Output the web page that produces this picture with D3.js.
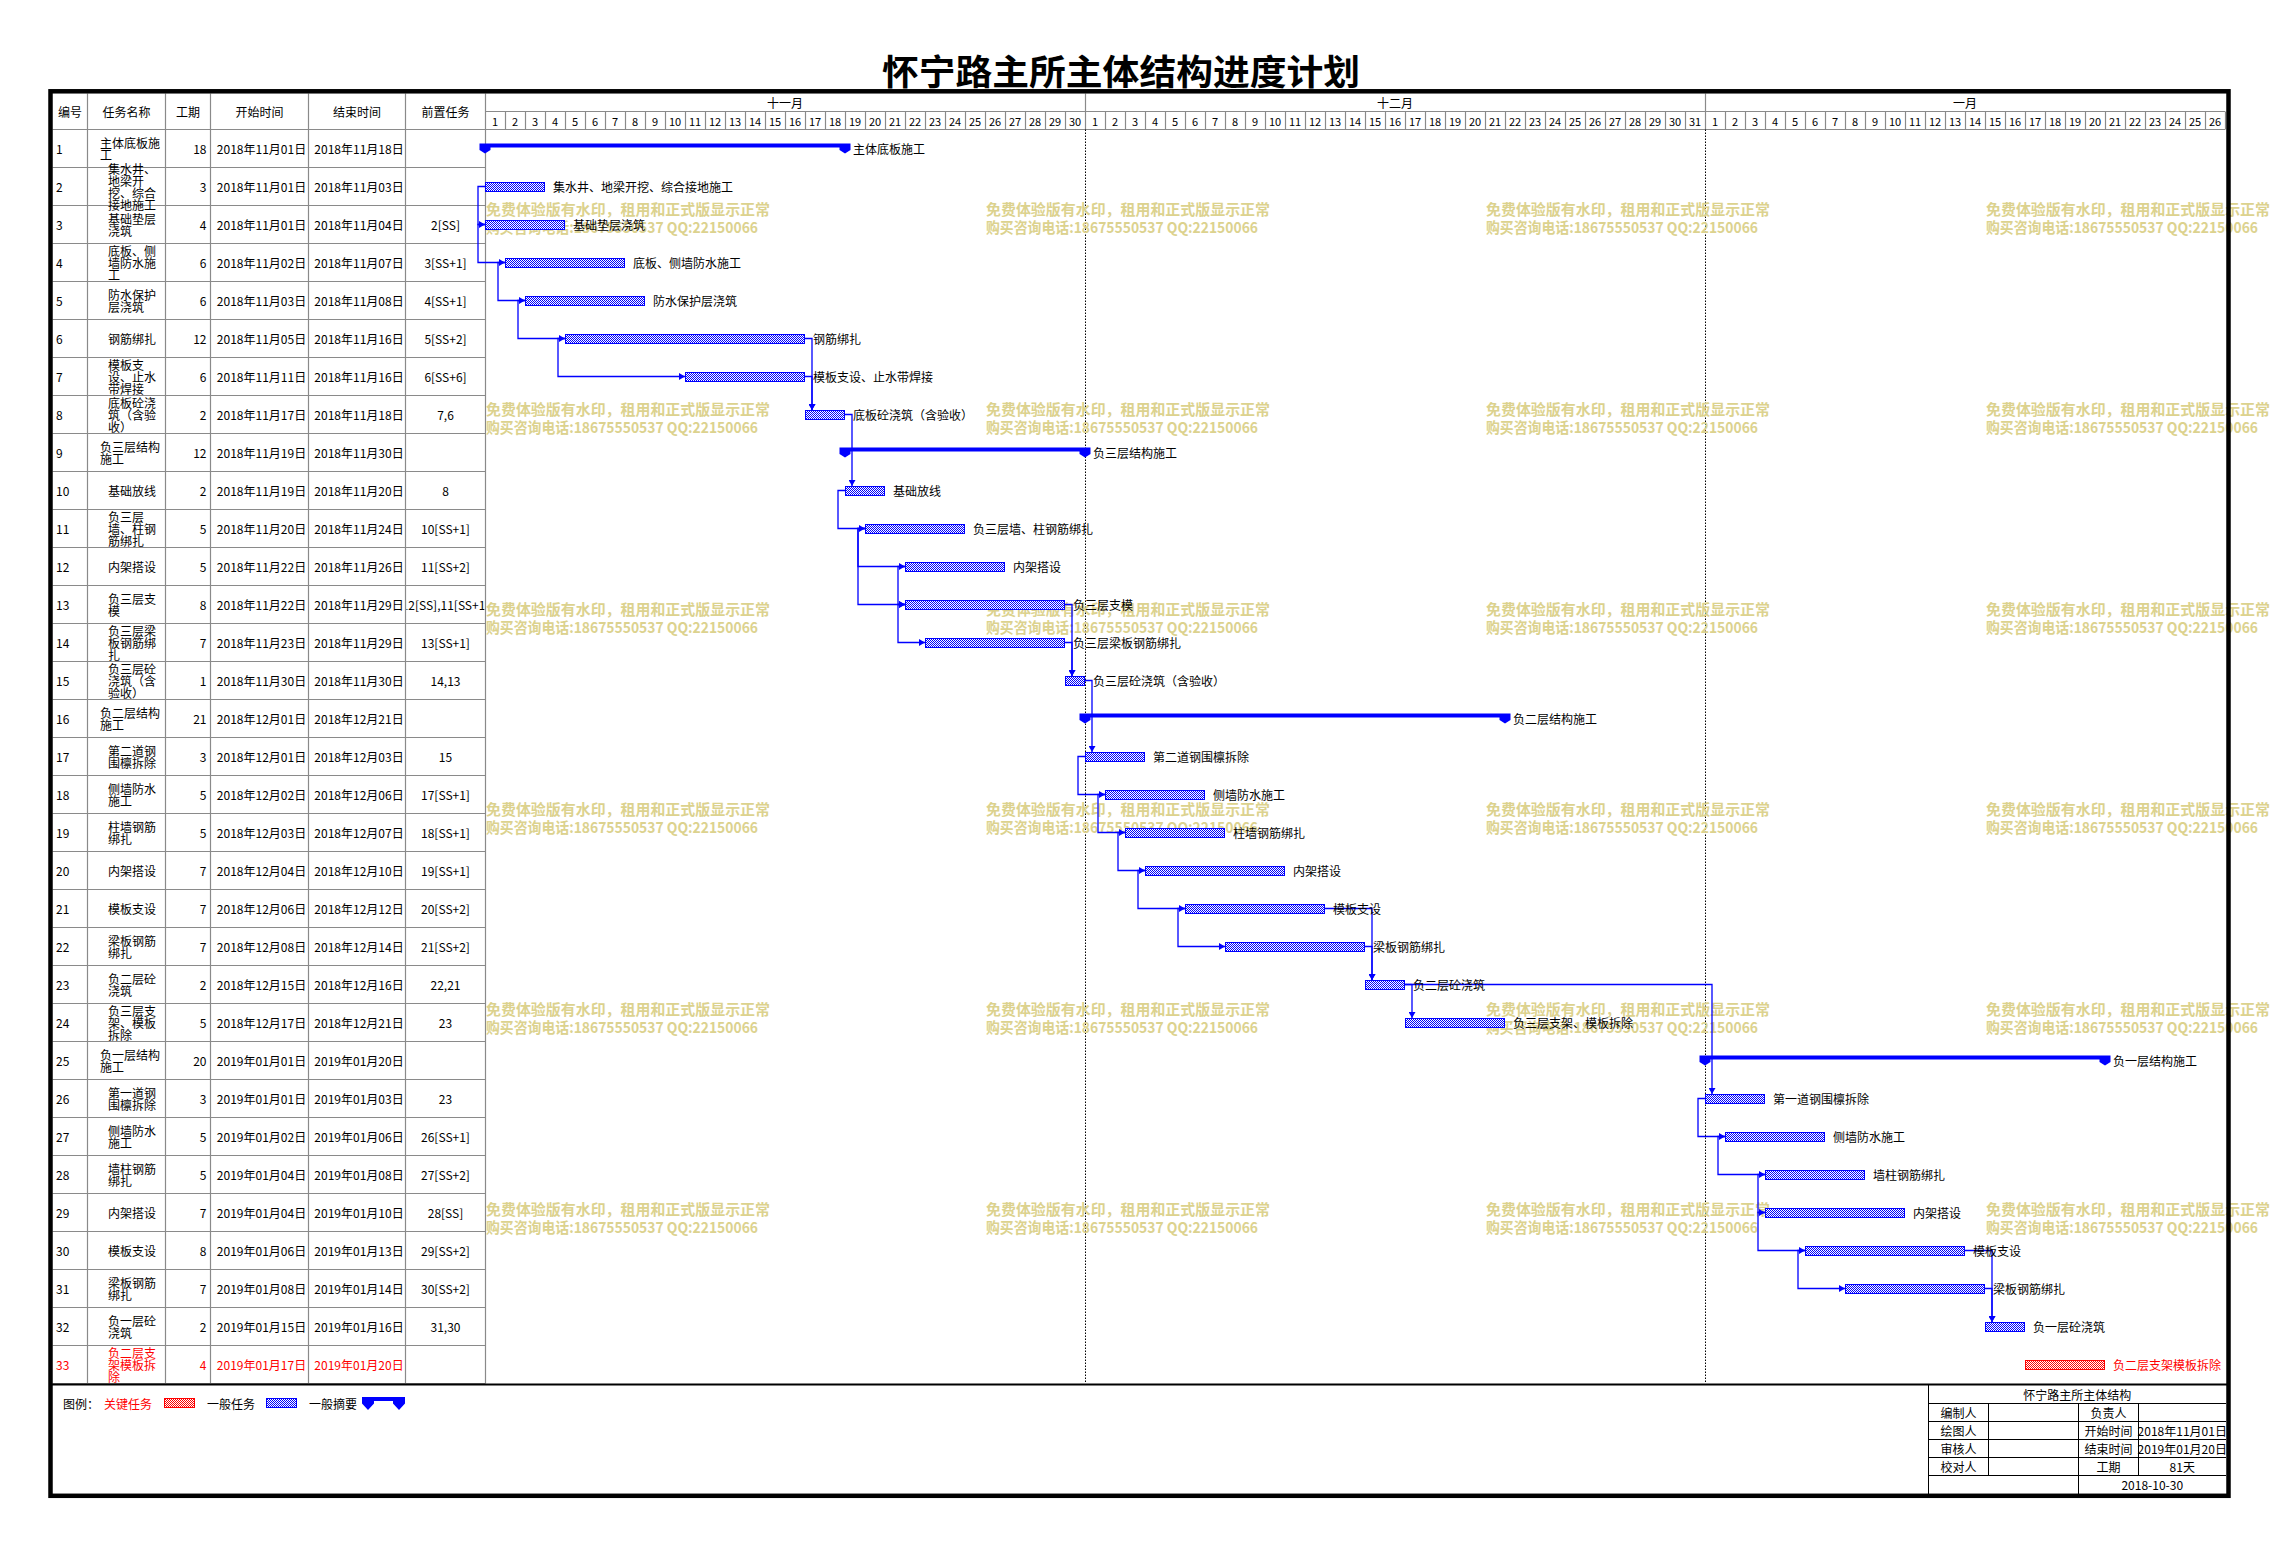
<!DOCTYPE html>
<html>
<head>
<meta charset="utf-8">
<script src="https://cdn.jsdelivr.net/npm/d3@7"></script>
<style>
  body { margin: 0; background: #fff; }
  text { font-family: "Noto Sans CJK SC", "Noto Sans", sans-serif; }
</style>
</head>
<body>
<div id="chart"></div>
<script>
var width = 2277;
var height = 1545;

// ---- data read from the plan ----
var taskIds = d3.range(1, 34);
var taskNames = [
  "主体底板施工", "集水井、地梁开挖、综合接地施工", "基础垫层浇筑", "底板、侧墙防水施工",
  "防水保护层浇筑", "钢筋绑扎", "模板支设、止水带焊接", "底板砼浇筑（含验收）",
  "负三层结构施工", "基础放线", "负三层墙、柱钢筋绑扎", "内架搭设",
  "负三层支模", "负三层梁板钢筋绑扎", "负三层砼浇筑（含验收）", "负二层结构施工",
  "第二道钢围檩拆除", "侧墙防水施工", "柱墙钢筋绑扎", "内架搭设",
  "模板支设", "梁板钢筋绑扎", "负二层砼浇筑", "负三层支架、模板拆除",
  "负一层结构施工", "第一道钢围檩拆除", "侧墙防水施工", "墙柱钢筋绑扎",
  "内架搭设", "模板支设", "梁板钢筋绑扎", "负一层砼浇筑", "负二层支架模板拆除"
];
var durations = [18, 3, 4, 6, 6, 12, 6, 2, 12, 2, 5, 5, 8, 7, 1, 21, 3, 5, 5, 7, 7, 7, 2, 5, 20, 3, 5, 5, 7, 8, 7, 2, 4];
var startDates = [
  "2018-11-01", "2018-11-01", "2018-11-01", "2018-11-02", "2018-11-03", "2018-11-05", "2018-11-11", "2018-11-17",
  "2018-11-19", "2018-11-19", "2018-11-20", "2018-11-22", "2018-11-22", "2018-11-23", "2018-11-30", "2018-12-01",
  "2018-12-01", "2018-12-02", "2018-12-03", "2018-12-04", "2018-12-06", "2018-12-08", "2018-12-15", "2018-12-17",
  "2019-01-01", "2019-01-01", "2019-01-02", "2019-01-04", "2019-01-04", "2019-01-06", "2019-01-08", "2019-01-15",
  "2019-01-17"
];
var endDates = [
  "2018-11-18", "2018-11-03", "2018-11-04", "2018-11-07", "2018-11-08", "2018-11-16", "2018-11-16", "2018-11-18",
  "2018-11-30", "2018-11-20", "2018-11-24", "2018-11-26", "2018-11-29", "2018-11-29", "2018-11-30", "2018-12-21",
  "2018-12-03", "2018-12-06", "2018-12-07", "2018-12-10", "2018-12-12", "2018-12-14", "2018-12-16", "2018-12-21",
  "2019-01-20", "2019-01-03", "2019-01-06", "2019-01-08", "2019-01-10", "2019-01-13", "2019-01-14", "2019-01-16",
  "2019-01-20"
];
var predecessors = [
  "", "", "2[SS]", "3[SS+1]", "4[SS+1]", "5[SS+2]", "6[SS+6]", "7,6",
  "", "8", "10[SS+1]", "11[SS+2]", "12[SS],11[SS+1]", "13[SS+1]", "14,13", "",
  "15", "17[SS+1]", "18[SS+1]", "19[SS+1]", "20[SS+2]", "21[SS+2]", "22,21", "23",
  "", "23", "26[SS+1]", "27[SS+2]", "28[SS]", "29[SS+2]", "30[SS+2]", "31,30", ""
];
var summaryIds = [1, 9, 16, 25];
var criticalIds = [33];

var headerLabels = ["编号", "任务名称", "工期", "开始时间", "结束时间", "前置任务"];
var monthLabels = ["十一月", "十二月", "一月"];
var chartStart = "2018-11-01";
var chartEnd = "2019-01-27";

var title = "怀宁路主所主体结构进度计划";
var legendLabels = ["关键任务", "一般任务", "一般摘要"];
var blockTitle = "怀宁路主所主体结构";
var blockLeft = ["编制人", "绘图人", "审核人", "校对人"];
var blockRight = ["负责人", "开始时间", "结束时间", "工期"];
var blockValues = ["", "2018年11月01日", "2019年01月20日", "81天"];
var blockDate = "2018-10-30";
var watermark1 = "免费体验版有水印，租用和正式版显示正常";
var watermark2 = "购买咨询电话:18675550537 QQ:22150066";

// ---- layout ----
var cols = [52.5, 87.5, 165.5, 210.5, 308.5, 405.5, 485.5];
var headTop = 93.5, dayTop = 111.5, bodyTop = 129.5, rowH = 38;
var bodyBottom = bodyTop + rowH * taskIds.length;
var blue = "#0000ff", red = "#ff0000", grid = "#8a8a8a";

var parse = d3.utcParse("%Y-%m-%d");
var fmt = d3.utcFormat("%Y年%m月%d日");

var tasks = taskIds.map(function(id, i) {
  return {
    id: id, name: taskNames[i], dur: durations[i],
    start: parse(startDates[i]), end: d3.utcDay.offset(parse(endDates[i]), 1),
    pred: predecessors[i],
    summary: summaryIds.indexOf(id) >= 0,
    critical: criticalIds.indexOf(id) >= 0
  };
});
var byId = {};
tasks.forEach(function(t) { byId[t.id] = t; });

var xScale = d3.scaleUtc()
  .domain([parse(chartStart), parse(chartEnd)])
  .range([485, 2225]);

var yScale = d3.scaleBand()
  .domain(taskIds)
  .range([bodyTop, bodyBottom]);

function yc(id) { return yScale(id) + rowH / 2; }

var svg = d3.select("#chart")
  .append("svg")
  .attr("width", width)
  .attr("height", height);

svg.append("rect").attr("width", width).attr("height", height).attr("fill", "#fff");

var defs = svg.append("defs");
function addPattern(id, color) {
  var p = defs.append("pattern").attr("id", id)
    .attr("patternUnits", "userSpaceOnUse").attr("width", 2).attr("height", 2);
  p.append("rect").attr("width", 2).attr("height", 2).attr("fill", "#fff");
  p.append("rect").attr("width", 1).attr("height", 1).attr("fill", color);
  p.append("rect").attr("x", 1).attr("y", 1).attr("width", 1).attr("height", 1).attr("fill", color);
}
addPattern("hatchBlue", blue);
addPattern("hatchRed", red);

defs.append("marker").attr("id", "arrow")
  .attr("markerUnits", "userSpaceOnUse")
  .attr("viewBox", "0 0 6 7").attr("refX", 6).attr("refY", 3.5)
  .attr("markerWidth", 6).attr("markerHeight", 7).attr("orient", "auto")
  .append("path").attr("d", "M0,0L6,3.5L0,7Z").attr("fill", blue);

defs.append("clipPath").attr("id", "predClip")
  .append("rect").attr("x", cols[5] + 1).attr("y", bodyTop).attr("width", cols[6] - cols[5] - 2).attr("height", bodyBottom - bodyTop);

// ---- title ----
svg.append("text")
  .attr("x", 1121).attr("y", 69)
  .attr("text-anchor", "middle").attr("dominant-baseline", "central")
  .attr("font-size", 35).attr("font-weight", "bold")
  .attr("textLength", 478).attr("lengthAdjust", "spacingAndGlyphs")
  .text(title);

// ---- table ----
var table = svg.append("g");
table.selectAll(".hline")
  .data(d3.range(taskIds.length + 1))
  .enter().append("line")
    .attr("x1", cols[0]).attr("x2", cols[6])
    .attr("y1", function(d) { return bodyTop + d * rowH; })
    .attr("y2", function(d) { return bodyTop + d * rowH; })
    .attr("stroke", grid).attr("stroke-width", 1.2);

table.selectAll(".vline")
  .data(cols.slice(1))
  .enter().append("line")
    .attr("x1", function(d) { return d; }).attr("x2", function(d) { return d; })
    .attr("y1", headTop).attr("y2", bodyBottom)
    .attr("stroke", grid).attr("stroke-width", 1.2);

table.selectAll(".head")
  .data(headerLabels)
  .enter().append("text")
    .attr("x", function(d, i) { return (cols[i] + cols[i + 1]) / 2; })
    .attr("y", (headTop + bodyTop) / 2)
    .attr("text-anchor", "middle").attr("dominant-baseline", "central")
    .attr("font-size", 12)
    .text(function(d) { return d; });

var noStart = "、，）)";
function wrapName(name, n) {
  var lines = [], s = name;
  while (s.length > n) {
    var cut = n;
    if (noStart.indexOf(s[cut]) >= 0) cut -= 1;
    lines.push(s.slice(0, cut));
    s = s.slice(cut);
  }
  lines.push(s);
  return lines;
}

var rows = table.selectAll(".row")
  .data(tasks)
  .enter().append("g")
    .attr("fill", function(d) { return d.critical ? red : "#000"; })
    .attr("font-size", 12);

rows.append("text")
  .attr("x", 56).attr("y", function(d) { return yc(d.id); })
  .attr("dominant-baseline", "central")
  .text(function(d) { return d.id; });

rows.each(function(d) {
  var lines = wrapName(d.name, d.summary ? 5 : 4);
  var lh = 12;
  var y0 = yc(d.id) - (lines.length - 1) * lh / 2;
  d3.select(this).selectAll(".nm")
    .data(lines)
    .enter().append("text")
      .attr("x", d.summary ? 100 : 108)
      .attr("y", function(l, j) { return y0 + j * lh; })
      .attr("dominant-baseline", "central")
      .text(function(l) { return l; });
});

rows.append("text")
  .attr("x", cols[3] - 4).attr("y", function(d) { return yc(d.id); })
  .attr("text-anchor", "end").attr("dominant-baseline", "central")
  .text(function(d) { return d.dur; });

rows.append("text")
  .attr("x", (cols[3] + cols[4]) / 2 + 2).attr("y", function(d) { return yc(d.id); })
  .attr("text-anchor", "middle").attr("dominant-baseline", "central")
  .text(function(d) { return fmt(d.start); });

rows.append("text")
  .attr("x", (cols[4] + cols[5]) / 2 + 2).attr("y", function(d) { return yc(d.id); })
  .attr("text-anchor", "middle").attr("dominant-baseline", "central")
  .text(function(d) { return fmt(d3.utcDay.offset(d.end, -1)); });

rows.append("text")
  .attr("x", (cols[5] + cols[6]) / 2).attr("y", function(d) { return yc(d.id); })
  .attr("text-anchor", "middle").attr("dominant-baseline", "central")
  .attr("clip-path", "url(#predClip)")
  .text(function(d) { return d.pred; });

// ---- timescale header ----
var head = svg.append("g");
var days = d3.utcDays(xScale.domain()[0], xScale.domain()[1]);
var months = d3.utcMonths(d3.utcMonth.floor(xScale.domain()[0]), xScale.domain()[1]);

head.append("line")
  .attr("x1", xScale.range()[0]).attr("x2", xScale.range()[1])
  .attr("y1", dayTop).attr("y2", dayTop)
  .attr("stroke", grid).attr("stroke-width", 1.2);
head.append("line")
  .attr("x1", xScale.range()[0]).attr("x2", xScale.range()[1])
  .attr("y1", bodyTop).attr("y2", bodyTop)
  .attr("stroke", grid).attr("stroke-width", 1.2);

head.selectAll(".dayline")
  .data(days.slice(1).concat([xScale.domain()[1]]))
  .enter().append("line")
    .attr("x1", function(d) { return Math.round(xScale(d)) + 0.5; })
    .attr("x2", function(d) { return Math.round(xScale(d)) + 0.5; })
    .attr("y1", function(d) { return d.getUTCDate() === 1 ? headTop : dayTop; })
    .attr("y2", bodyTop)
    .attr("stroke", grid).attr("stroke-width", 1.2);

head.selectAll(".day")
  .data(days)
  .enter().append("text")
    .attr("x", function(d) { return xScale(d) + 10; })
    .attr("y", (dayTop + bodyTop) / 2 + 0.5)
    .attr("text-anchor", "middle").attr("dominant-baseline", "central")
    .attr("font-size", 11)
    .text(function(d) { return d.getUTCDate(); });

head.selectAll(".month")
  .data(months)
  .enter().append("text")
    .attr("x", function(d) {
      var a = Math.max(xScale(d), xScale.range()[0]);
      var b = Math.min(xScale(d3.utcMonth.offset(d, 1)), xScale.range()[1]);
      return (a + b) / 2;
    })
    .attr("y", (headTop + dayTop) / 2)
    .attr("text-anchor", "middle").attr("dominant-baseline", "central")
    .attr("font-size", 12)
    .text(function(d, i) { return monthLabels[i]; });

// month boundaries in the body
svg.selectAll(".mline")
  .data(months.slice(1))
  .enter().append("line")
    .attr("x1", function(d) { return Math.round(xScale(d)) + 0.5; })
    .attr("x2", function(d) { return Math.round(xScale(d)) + 0.5; })
    .attr("y1", bodyTop).attr("y2", bodyBottom)
    .attr("stroke", "#000").attr("stroke-width", 1)
    .attr("stroke-dasharray", "1.5,1.5");

// ---- trial watermark ----
var wm = svg.append("g").attr("fill", "#dcd28e").attr("font-size", 15).attr("font-weight", "bold");
d3.range(4).forEach(function(i) {
  d3.range(6).forEach(function(j) {
    wm.append("text").attr("x", 486 + 500 * i).attr("y", 208 + 200 * j)
      .attr("dominant-baseline", "central")
      .attr("textLength", 284).attr("lengthAdjust", "spacingAndGlyphs")
      .text(watermark1);
    wm.append("text").attr("x", 486 + 500 * i).attr("y", 226 + 200 * j)
      .attr("dominant-baseline", "central")
      .attr("textLength", 272).attr("lengthAdjust", "spacingAndGlyphs")
      .text(watermark2);
  });
});

// ---- dependency links ----
var links = [];
tasks.forEach(function(t) {
  if (!t.pred) return;
  t.pred.split(",").forEach(function(p) {
    var m = p.match(/^(\d+)(\[SS([+-]\d+)?\])?$/);
    links.push({ from: byId[+m[1]], to: t, type: m[2] ? "SS" : "FS" });
  });
});

svg.append("g").selectAll("path")
  .data(links)
  .enter().append("path")
    .attr("fill", "none").attr("stroke", blue).attr("stroke-width", 1.3)
    .attr("marker-end", "url(#arrow)")
    .attr("d", function(l) {
      var y0 = yc(l.from.id), y1 = yc(l.to.id);
      if (l.type === "SS") {
        var xs = xScale(l.from.start);
        return "M" + xs + "," + y0 + "H" + (xs - 7) + "V" + y1 + "H" + xScale(l.to.start);
      }
      var xe = xScale(l.from.end), x1 = xScale(l.to.start) + 7;
      return "M" + xe + "," + y0 + "H" + x1 + "V" + (y1 - 4.5);
    });

// ---- bars ----
var plain = tasks.filter(function(t) { return !t.summary; });
svg.append("g").selectAll("rect")
  .data(plain)
  .enter().append("rect")
    .attr("x", function(d) { return xScale(d.start) + 0.5; })
    .attr("y", function(d) { return Math.round(yc(d.id) - 4.5) + 0.5; })
    .attr("width", function(d) { return xScale(d.end) - xScale(d.start) - 1; })
    .attr("height", 9)
    .attr("fill", function(d) { return d.critical ? "url(#hatchRed)" : "url(#hatchBlue)"; })
    .attr("stroke", function(d) { return d.critical ? red : blue; })
    .attr("stroke-width", 1);

function summaryPath(xs, xe, y, hw, drop) {
  return "M" + (xs - hw) + "," + (y - 5) + "H" + (xe + hw) + "V" + (y + 1.5) +
    "L" + xe + "," + (y + drop) + "L" + (xe - hw) + "," + (y + 1.5) + "V" + (y - 1) +
    "H" + (xs + hw) + "V" + (y + 1.5) + "L" + xs + "," + (y + drop) +
    "L" + (xs - hw) + "," + (y + 1.5) + "Z";
}

svg.append("g").selectAll("path")
  .data(tasks.filter(function(t) { return t.summary; }))
  .enter().append("path")
    .attr("fill", blue)
    .attr("d", function(d) { return summaryPath(xScale(d.start), xScale(d.end), yc(d.id), 5.5, 5); });

svg.append("g").selectAll("text")
  .data(tasks)
  .enter().append("text")
    .attr("x", function(d) { return xScale(d.end) + 8; })
    .attr("y", function(d) { return yc(d.id); })
    .attr("dominant-baseline", "central")
    .attr("font-size", 12)
    .attr("fill", function(d) { return d.critical ? red : "#000"; })
    .text(function(d) { return d.name; });

// ---- legend ----
svg.append("line")
  .attr("x1", 50).attr("x2", 2228).attr("y1", bodyBottom + 1).attr("y2", bodyBottom + 1)
  .attr("stroke", "#000").attr("stroke-width", 2);

var lg = svg.append("g").attr("font-size", 12);
var ly = 1403;
lg.append("text").attr("x", 63).attr("y", ly).attr("dominant-baseline", "central").text("图例：");
lg.append("text").attr("x", 104).attr("y", ly).attr("dominant-baseline", "central").attr("fill", red).text(legendLabels[0]);
lg.append("rect").attr("x", 164.5).attr("y", 1398.5).attr("width", 30).attr("height", 9)
  .attr("fill", "url(#hatchRed)").attr("stroke", red);
lg.append("text").attr("x", 207).attr("y", ly).attr("dominant-baseline", "central").text(legendLabels[1]);
lg.append("rect").attr("x", 266.5).attr("y", 1398.5).attr("width", 30).attr("height", 9)
  .attr("fill", "url(#hatchBlue)").attr("stroke", blue);
lg.append("text").attr("x", 309).attr("y", ly).attr("dominant-baseline", "central").text(legendLabels[2]);
lg.append("path").attr("fill", blue).attr("d", summaryPath(368, 399, 1402, 6, 8));

// ---- title block ----
var tb = svg.append("g").attr("font-size", 12);
var bx = [1928.5, 1988.5, 2078.5, 2138.5, 2226];
var by = [1384.5, 1403.5, 1421.5, 1439.5, 1457.5, 1475.5, 1494];
tb.append("line").attr("x1", bx[0]).attr("x2", bx[0]).attr("y1", by[0]).attr("y2", by[6]).attr("stroke", "#000");
by.slice(1, 6).forEach(function(y) {
  tb.append("line").attr("x1", bx[0]).attr("x2", bx[4]).attr("y1", y).attr("y2", y).attr("stroke", "#000");
});
[bx[1], bx[3]].forEach(function(x) {
  tb.append("line").attr("x1", x).attr("x2", x).attr("y1", by[1]).attr("y2", by[5]).attr("stroke", "#000");
});
tb.append("line").attr("x1", bx[2]).attr("x2", bx[2]).attr("y1", by[1]).attr("y2", by[6]).attr("stroke", "#000");

tb.append("text").attr("x", (bx[0] + bx[4]) / 2).attr("y", (by[0] + by[1]) / 2)
  .attr("text-anchor", "middle").attr("dominant-baseline", "central").text(blockTitle);
blockLeft.forEach(function(s, i) {
  var y = (by[i + 1] + by[i + 2]) / 2;
  tb.append("text").attr("x", (bx[0] + bx[1]) / 2).attr("y", y)
    .attr("text-anchor", "middle").attr("dominant-baseline", "central").text(s);
  tb.append("text").attr("x", (bx[2] + bx[3]) / 2).attr("y", y)
    .attr("text-anchor", "middle").attr("dominant-baseline", "central").text(blockRight[i]);
  tb.append("text").attr("x", (bx[3] + bx[4]) / 2).attr("y", y)
    .attr("text-anchor", "middle").attr("dominant-baseline", "central").text(blockValues[i]);
});
tb.append("text").attr("x", (bx[2] + bx[4]) / 2).attr("y", (by[5] + by[6]) / 2)
  .attr("text-anchor", "middle").attr("dominant-baseline", "central").text(blockDate);

// ---- outer frame ----
svg.append("rect")
  .attr("x", 50.5).attr("y", 91.3).attr("width", 2178).attr("height", 1404.5)
  .attr("fill", "none").attr("stroke", "#000").attr("stroke-width", 4.5);
</script>
</body>
</html>
